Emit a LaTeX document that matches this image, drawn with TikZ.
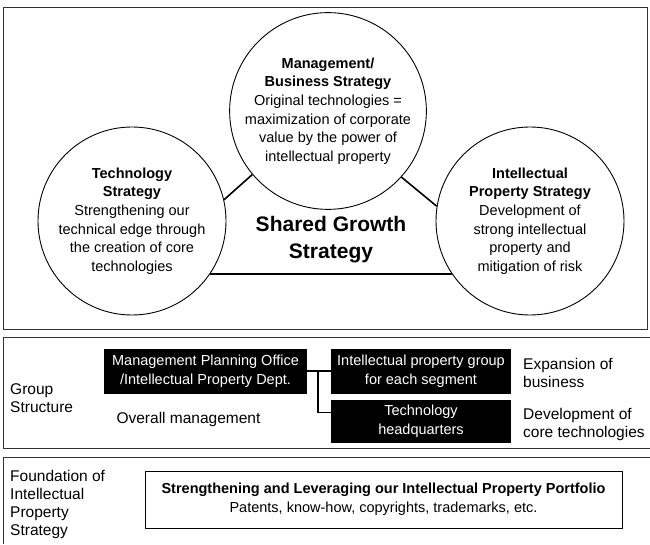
\documentclass[tikz,border=0pt]{standalone}
\usepackage{fontspec}
\setmainfont{Liberation Sans}
\begin{document}
\begin{tikzpicture}[x=1pt,y=1pt]

% --- Global TikZ Styles ---
\tikzset{
    panel/.style={
        draw=black!80,
        line width=0.8pt
    },
    strategy/.style={
        circle,
        draw=black,
        line width=0.9pt,
        minimum size=188pt,
        inner sep=0pt,
        align=center,
        font=\fontsize{14.5}{18.6}\selectfont
    },
    link/.style={
        draw=black,
        line width=1.6pt
    },
    shared/.style={
        align=center,
        font=\fontsize{21}{27}\selectfont\bfseries
    },
    darkbox/.style={
        fill=black,
        text=white,
        inner sep=0pt,
        minimum height=45pt,
        align=center,
        font=\fontsize{14.5}{19}\selectfont
    },
    orgline/.style={
        draw=black,
        line width=1.2pt
    },
    label/.style={
        align=left,
        anchor=west,
        inner sep=0pt,
        font=\fontsize{15.5}{18}\selectfont
    },
    portfolio/.style={
        draw=black,
        line width=0.8pt,
        minimum width=477pt,
        minimum height=57pt,
        align=center,
        font=\fontsize{14.5}{19}\selectfont
    }
}

\useasboundingbox (0,0) rectangle (650,544);

% ==================================================
% --- Top panel: three strategies ---
% ==================================================

\draw[panel] (3,215) rectangle (647,537);

\node[strategy] (mgmt) at (328,433)
    {\textbf{Management/}\\\textbf{Business Strategy}\\
     Original technologies =\\maximization of corporate\\
     value by the power of\\intellectual property};

\node[strategy] (tech) at (132,323)
    {\textbf{Technology}\\\textbf{Strategy}\\
     Strengthening our\\technical edge through\\
     the creation of core\\technologies};

\node[strategy] (ipstrat) at (530,323)
    {\textbf{Intellectual}\\\textbf{Property Strategy}\\
     Development of\\strong intellectual\\
     property and\\mitigation of risk};

\node[shared] (growth) at (331,304.5) {Shared Growth\\Strategy};

% Links between the circles
\draw[link] (mgmt.220) -- (tech.13);
\draw[link] (mgmt.-42) -- (ipstrat.171);
\draw[link] (tech.-34) -- (ipstrat.214);

% ==================================================
% --- Middle panel: group structure ---
% ==================================================

\draw[panel] (650,207) -- (3,207) -- (3,96) -- (650,96);

\node[label] (group) at (10,146) {Group\\Structure};

\node[darkbox, minimum width=203pt] (mpo) at (205.5,173)
    {Management Planning Office\\/Intellectual Property Dept.};
\node[darkbox, minimum width=180pt] (ipg) at (421,173)
    {Intellectual property group\\for each segment};
\node[darkbox, minimum width=180pt, minimum height=43pt] (thq) at (421,122.5)
    {Technology\\headquarters};

\node[label, anchor=center] (overall) at (188.5,125) {Overall management};

\coordinate (split) at (318,173);
\draw[orgline] (mpo.east) -- (ipg.west);
\draw[orgline] (split) |- ([yshift=9pt]thq.west);

\node[label] (expand) at (523,171) {Expansion of\\business};
\node[label] (develop) at (523,120) {Development of\\core technologies};

% ==================================================
% --- Bottom panel: foundation ---
% ==================================================

\draw[panel] (650,87) -- (3,87) -- (3,0);

\node[label] (found) at (10,40)
    {Foundation of\\Intellectual\\Property\\Strategy};

\node[portfolio] (pf) at (383.5,44.5)
    {\textbf{Strengthening and Leveraging our Intellectual Property Portfolio}\\
     Patents, know-how, copyrights, trademarks, etc.};

\end{tikzpicture}
\end{document}
